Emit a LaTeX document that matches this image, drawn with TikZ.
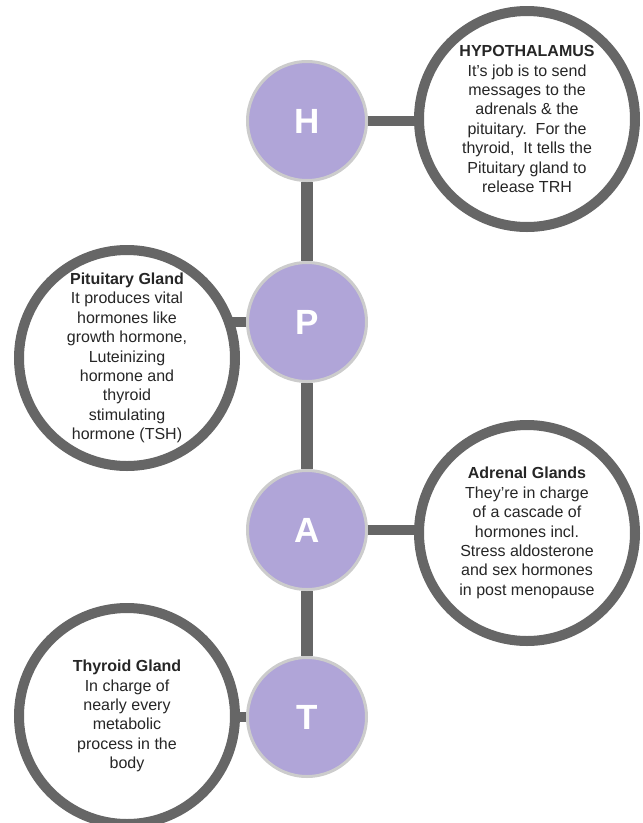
\documentclass[tikz,border=0pt]{standalone}
\usepackage{fontspec}
\setmainfont{Liberation Sans}
\usetikzlibrary{backgrounds}
\definecolor{lilac}{RGB}{176,165,216}
\definecolor{ringgray}{RGB}{102,102,102}
\definecolor{rimgray}{RGB}{204,204,204}

\begin{document}
\begin{tikzpicture}[x=1pt, y=-1pt,
  letterdot/.style={circle, fill=lilac, draw=rimgray, line width=3pt, minimum size=119pt, inner sep=0pt, text=white, font=\fontsize{35}{35}\selectfont\bfseries},
  glandring/.style={circle, fill=white, draw=ringgray, line width=10pt, minimum size=216pt, inner sep=0pt, align=center, text=black!85, font=\fontsize{16}{19.4}\selectfont},
  stem/.style={draw=ringgray, line width=12pt},
  branch/.style={draw=ringgray, line width=10pt}]
\useasboundingbox (0,0) rectangle (643,823);

\node[letterdot] (hdot) at (307,121) {H};
\node[letterdot] (pdot) at (307,322) {P};
\node[letterdot] (adot) at (307,530) {A};
\node[letterdot] (tdot) at (307,717) {T};

\node[glandring] (hypo) at (527,119) {\textbf{HYPOTHALAMUS}\\It's job is to send\\messages to the\\adrenals \& the\\pituitary.\ \ For the\\thyroid,\ \ It tells the\\Pituitary gland to\\release TRH};
\node[glandring] (pitu) at (127,358) {\textbf{Pituitary Gland}\\It produces vital\\hormones like\\growth hormone,\\Luteinizing\\hormone and\\thyroid\\stimulating\\hormone (TSH)};
\node[glandring] (adre) at (527,533) {\textbf{Adrenal Glands}\\They're in charge\\of a cascade of\\hormones incl.\\Stress aldosterone\\and sex hormones\\in post menopause};
\node[glandring] (thyr) at (127,716) {\textbf{Thyroid Gland}\\In charge of\\nearly every\\metabolic\\process in the\\body};

\begin{scope}[on background layer]
\draw[stem] (hdot) -- (pdot);
\draw[stem] (pdot) -- (adot);
\draw[stem] (adot) -- (tdot);
\draw[branch] (hdot.center) -- (hdot.center -| hypo.center);
\draw[branch] (pdot.center) -- (pdot.center -| pitu.center);
\draw[branch] (adot.center) -- (adot.center -| adre.center);
\draw[branch] (tdot.center) -- (tdot.center -| thyr.center);
\end{scope}
\end{tikzpicture}
\end{document}
